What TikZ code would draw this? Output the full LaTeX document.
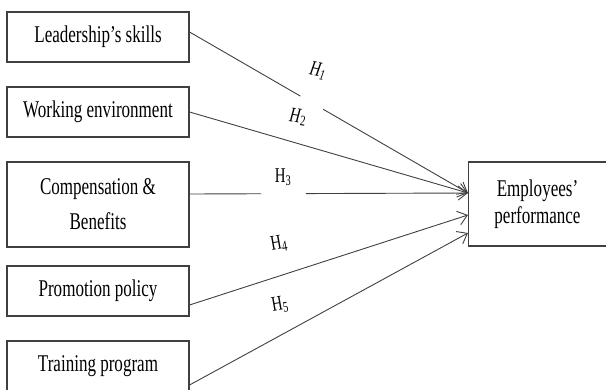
\documentclass[tikz,border=0pt]{standalone}
\usepackage{fontspec}
\setmainfont[FakeStretch=0.71]{Liberation Serif}
\usetikzlibrary{arrows.meta,calc}
\begin{document}
\begin{tikzpicture}[x=1pt,y=1pt,
  box/.style={draw=black!75,line width=1.1pt,minimum width=182pt,inner sep=0pt,align=center,
    font=\fontsize{24}{35}\selectfont},
  link/.style={draw=black!75,line width=0.9pt},
  arr/.style={link,-{Straight Barb[length=9pt,width=14pt,line width=0.9pt]}},
  hl/.style={font=\fontsize{21}{22}\selectfont,inner sep=0pt}]
\useasboundingbox (0,0) rectangle (606,-389);
\node[box,minimum height=50pt] (b1) at (98,-37) {Leadership’s skills};
\node[box,minimum height=50pt] (b2) at (98,-112) {Working environment};
\node[box,minimum height=85pt] (b3) at (98,-204.5) {Compensation \&\\Benefits};
\node[box,minimum height=50pt] (b4) at (98,-291) {Promotion policy};
\node[box,minimum height=50pt] (b5) at (98,-366) {Training program};
\node[box,minimum width=138pt,minimum height=84pt,font=\fontsize{24}{27}\selectfont] (emp) at (537.5,-204) {Employees’\\performance};
% H1 with gap
\path ([yshift=5pt]b1.east) -- coordinate[pos=0.398] (g1a) coordinate[pos=0.48] (g1b) ([yshift=11pt]emp.west);
\draw[link] ([yshift=5pt]b1.east) -- (g1a);
\draw[arr] (g1b) -- ([yshift=11pt]emp.west);
% H2
\draw[arr] (b2.east) -- ([yshift=11pt]emp.west);
% H3 with gap
\path ([yshift=10.5pt]b3.east) -- coordinate[pos=0.257] (g3a) coordinate[pos=0.418] (g3b) ([yshift=11pt]emp.west);
\draw[link] ([yshift=10.5pt]b3.east) -- (g3a);
\draw[arr] (g3b) -- ([yshift=11pt]emp.west);
% H4, H5
\draw[arr] ([yshift=-14pt]b4.east) -- ([yshift=-11pt]emp.west);
\draw[arr] ([yshift=-19pt]b5.east) -- ([yshift=-29pt]emp.west);
% labels
\node[hl,rotate=-12] (h1) at (318,-71) {\textit{H\textsubscript{1}}};
\node[hl,rotate=-8] (h2) at (298,-117) {\textit{H}\textsubscript{2}};
\node[hl] (h3) at (283,-177) {H\textsubscript{3}};
\node[hl,rotate=10] (h4) at (279,-244) {H\textsubscript{4}};
\node[hl,rotate=10] (h5) at (280,-305) {H\textsubscript{5}};
\end{tikzpicture}
\end{document}
